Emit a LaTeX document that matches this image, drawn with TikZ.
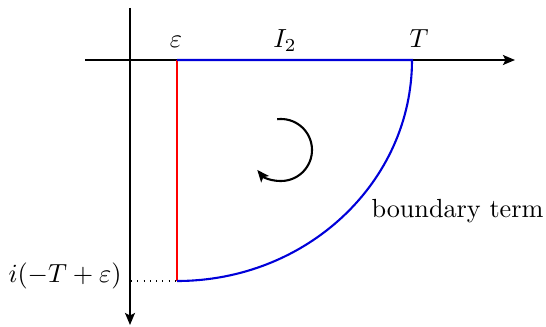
\documentclass[tikz,border=0pt]{standalone}
\usetikzlibrary{arrows.meta}
\begin{document}
\begin{tikzpicture}[x=0.3817pt,y=0.3817pt,
  axis/.style={line width=0.75pt,-{Stealth[length=4.6pt,width=3.8pt,inset=1pt]}},
  redline/.style={line width=0.8pt,red},
  blueline/.style={line width=0.8pt,blue!85!black},
  lbl/.style={inner sep=0pt,anchor=base}]
\useasboundingbox (0,0) rectangle (546,326);
% axes
\coordinate (xl) at (85,266);
\coordinate (xr) at (515,266);
\coordinate (yt) at (130,318);
\coordinate (yb) at (130,1);
\draw[axis] (xl) -- (xr);
\draw[axis] (yt) -- (yb);
% contour corners
\coordinate (A) at (177,266);
\coordinate (B) at (412,266);
\coordinate (C) at (177,45);
\coordinate (D) at (131,45);
\draw[dotted,line width=0.4pt] (D) -- (C);
\draw[redline] (A) -- (C);
\draw[blueline] (A) -- (B) arc[start angle=0,end angle=-90,x radius=235,y radius=221];
% circular arrow
\coordinate (R) at ({281+31*cos(97)},{176+31*sin(97)});
\draw[line width=0.8pt,-{Stealth[length=4.6pt,width=3.8pt,inset=1pt]}] (R) arc[start angle=97,end angle=-140,radius=31];
% labels
\node[lbl] (eps) at (176,278.5) {$\varepsilon$};
\node[lbl] (I2) at (285,278.5) {$I_2$};
\node[lbl] (T) at (419,278.5) {$T$};
\node[lbl] (bt) at (457.5,109) {boundary term};
\node[inner sep=0pt,anchor=base east] (im) at (122,44) {$i(-T+\varepsilon)$};
\end{tikzpicture}
\end{document}
